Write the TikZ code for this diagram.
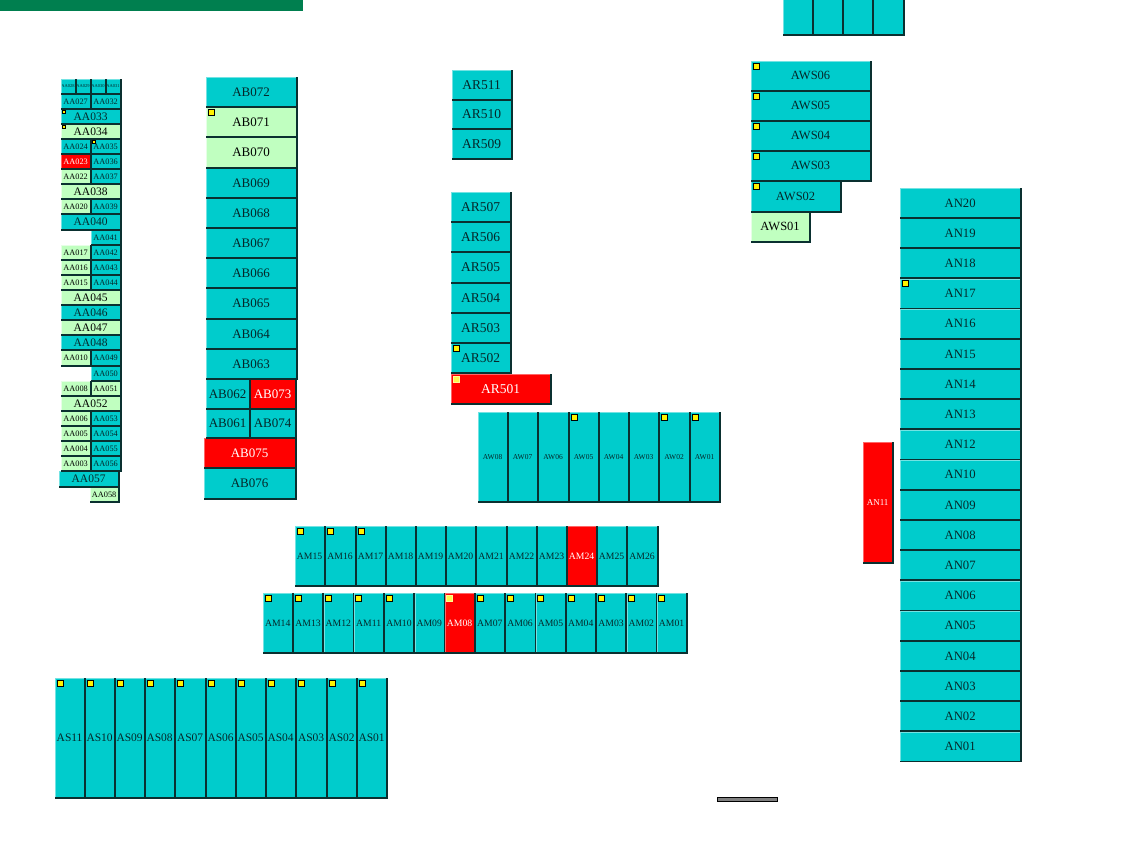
\documentclass[tikz,border=0pt]{standalone}
\usepackage{fontspec}
\setmainfont{Liberation Serif}
\definecolor{tealc}{HTML}{00CCCC}
\definecolor{greenc}{HTML}{C0FFC0}
\definecolor{redc}{HTML}{FF0000}
\definecolor{darkedge}{HTML}{0A3030}
\definecolor{topbar}{HTML}{007F4F}
\definecolor{lighttx}{HTML}{05282A}
\tikzset{
  x=1pt,y=-1pt,
  cellbase/.style={anchor=north west,inner sep=0pt,outer sep=0pt,draw=none,text=lighttx,align=center},
  tl/.style={cellbase,fill=tealc},
  gr/.style={cellbase,fill=greenc,text=black},
  rd/.style={cellbase,fill=redc,text=white},
  hiedge/.style={line width=0.9pt},
  loedge/.style={line width=1.7pt,color=darkedge},
  marker/.style={anchor=north west,inner sep=0pt,outer sep=0pt,minimum width=6pt,minimum height=6pt,fill=yellow,draw=black,line width=0.9pt},
  pale/.style={marker,fill=yellow!70!white,draw=yellow!40!white},
}
\def\grname{gr}\def\rdname{rd}
\gdef\edgelist{}
% \cell{style}{name}{x0}{y0}{x1}{y1}{size}{text}
\newcommand{\cell}[8]{%
  \pgfmathsetlengthmacro{\cw}{(#5-#3)*1pt}\pgfmathsetlengthmacro{\ch}{(#6-#4)*1pt}%
  \def\stylename{#1}%
  \ifx\stylename\grname\def\hic{white!60!greenc}\else\ifx\stylename\rdname\def\hic{redc!60!white}\else\def\hic{tealc!55!white}\fi\fi
  \node[#1,minimum width=\cw,minimum height=\ch] (#2) at (#3,#4) {\raisebox{0.4pt}{\fontsize{#7}{#7}\selectfont #8}\hspace{0.8pt}};
  \draw[hiedge,color=\hic] ([shift={(0.45,-1)}]#2.south west) -- ([shift={(0.45,0.45)}]#2.north west) -- ([shift={(-1,0.45)}]#2.north east);
  \xdef\edgelist{\edgelist #2,}%
}
\newcommand{\mk}[1]{\node[marker] (m#1) at ([shift={(2,2)}]#1.north west) {};}
\newcommand{\mkp}[1]{\node[pale] (m#1) at ([shift={(2,2)}]#1.north west) {};}
\newcommand{\mks}[1]{\node[marker,minimum width=3pt,minimum height=3pt,line width=0.7pt] (m#1) at ([shift={(1,1.5)}]#1.north west) {};}
\begin{document}
\begin{tikzpicture}
\useasboundingbox (0,0) rectangle (1138,849);
\fill[white] (0,0) rectangle (1138,849);
\node[anchor=north west,inner sep=0pt,outer sep=0pt,fill=topbar,minimum width=303pt,minimum height=11pt] (bar) at (0,0) {};
\node[anchor=north west,inner sep=0pt,outer sep=0pt,fill=gray,draw=black,line width=1pt,minimum width=60pt,minimum height=3.5pt] (gbar) at (717.5,797.5) {};
% top row
\cell{tl}{T1}{783}{-5}{813}{35}{8}{}
\cell{tl}{T2}{813}{-5}{843}{35}{8}{}
\cell{tl}{T3}{843}{-5}{873}{35}{8}{}
\cell{tl}{T4}{873}{-5}{904}{35}{8}{}
% AWS
\cell{tl}{AWS06}{751}{61}{871}{91}{12.5}{AWS06}
\cell{tl}{AWS05}{751}{91}{871}{121}{12.5}{AWS05}
\cell{tl}{AWS04}{751}{121}{871}{151}{12.5}{AWS04}
\cell{tl}{AWS03}{751}{151}{871}{181}{12.5}{AWS03}
\cell{tl}{AWS02}{751}{181}{841}{212}{12.5}{AWS02}
\cell{gr}{AWS01}{751}{212}{810}{242}{12.5}{AWS01}
\mk{AWS06}\mk{AWS05}\mk{AWS04}\mk{AWS03}\mk{AWS02}
% AN
\foreach \n/\i in {20/0,19/1,18/2,17/3,16/4,15/5,14/6,13/7,12/8,10/9,09/10,08/11,07/12,06/13,05/14,04/15,03/16,02/17,01/18}{
  \pgfmathsetmacro{\ya}{188+30.2*\i}\pgfmathsetmacro{\yb}{188+30.2*(\i+1)}
  \cell{tl}{AN\n}{900}{\ya}{1021}{\yb}{12.7}{AN\n}
}
\mk{AN17}
\cell{rd}{AN11}{863}{442}{893}{563}{9}{AN11}
% AR
\cell{tl}{AR511}{452}{70}{512}{100}{13.5}{AR511}
\cell{tl}{AR510}{452}{100}{512}{129}{13.5}{AR510}
\cell{tl}{AR509}{452}{129}{512}{159}{13.5}{AR509}
\cell{tl}{AR507}{451}{192}{511}{222}{13.5}{AR507}
\cell{tl}{AR506}{451}{222}{511}{252}{13.5}{AR506}
\cell{tl}{AR505}{451}{252}{511}{283}{13.5}{AR505}
\cell{tl}{AR504}{451}{283}{511}{313}{13.5}{AR504}
\cell{tl}{AR503}{451}{313}{511}{343}{13.5}{AR503}
\cell{tl}{AR502}{451}{343}{511}{373}{13.5}{AR502}
\cell{rd}{AR501}{451}{374}{551}{404}{13.5}{AR501}
\mk{AR502}\mkp{AR501}
% AW
\foreach \n/\a/\b in {08/478/508,07/508/538,06/538/569,05/569/599,04/599/629,03/629/659,02/659/690,01/690/720}{
  \cell{tl}{AW\n}{\a}{412}{\b}{502}{7.5}{AW\n}
}
\mk{AW05}\mk{AW02}\mk{AW01}
% AM upper
\foreach \n/\a/\b in {15/295/325,16/325/356,17/356/386,18/386/416,19/416/446,20/446/476,21/476/507,22/507/537,23/537/567,25/597/627,26/627/658}{
  \cell{tl}{AMu\n}{\a}{526}{\b}{586}{9.7}{AM\n}
}
\cell{rd}{AMu24}{567}{526}{597}{586}{9.7}{AM24}
\mk{AMu15}\mk{AMu16}\mk{AMu17}
% AM lower
\foreach \n/\i in {14/0,13/1,12/2,11/3,10/4,09/5,07/7,06/8,05/9,04/10,03/11,02/12,01/13}{
  \pgfmathsetmacro{\xa}{263+30.3*\i}\pgfmathsetmacro{\xb}{263+30.3*(\i+1)}
  \cell{tl}{AMl\n}{\xa}{593}{\xb}{653}{9.7}{AM\n}
}
\cell{rd}{AMl08}{444.8}{593}{475.1}{653}{9.7}{AM08}
\foreach \n in {14,13,12,11,10,07,06,05,04,03,02,01}{\mk{AMl\n}}
\mkp{AMl08}
% AS
\foreach \n/\a/\b in {11/55/85,10/85/115,09/115/145,08/145/175,07/175/206,06/206/236,05/236/266,04/266/296,03/296/327,02/327/357,01/357/387}{
  \cell{tl}{AS\n}{\a}{678}{\b}{798}{11.5}{AS\n}
  \mk{AS\n}
}
% AB
\cell{tl}{AB072}{206}{77}{297}{107}{13}{AB072}
\cell{gr}{AB071}{206}{107}{297}{137}{13}{AB071}
\cell{gr}{AB070}{206}{137}{297}{168}{13}{AB070}
\cell{tl}{AB069}{206}{168}{297}{198}{13}{AB069}
\cell{tl}{AB068}{206}{198}{297}{228}{13}{AB068}
\cell{tl}{AB067}{206}{228}{297}{258}{13}{AB067}
\cell{tl}{AB066}{206}{258}{297}{288}{13}{AB066}
\cell{tl}{AB065}{206}{288}{297}{319}{13}{AB065}
\cell{tl}{AB064}{206}{319}{297}{349}{13}{AB064}
\cell{tl}{AB063}{206}{349}{297}{379}{13}{AB063}
\cell{tl}{AB062}{206}{379}{250}{409}{13}{AB062}
\cell{rd}{AB073}{250}{379}{296}{409}{13}{AB073}
\cell{tl}{AB061}{206}{409}{250}{438}{13}{AB061}
\cell{tl}{AB074}{250}{409}{296}{438}{13}{AB074}
\cell{rd}{AB075}{204}{438}{296}{468}{13}{AB075}
\cell{tl}{AB076}{204}{468}{296}{499}{13}{AB076}
\mk{AB071}
% AA
\foreach \n/\a/\b in {028/61/76,029/76/91,030/91/106,031/106/121}{\cell{tl}{AA\n}{\a}{79}{\b}{94}{4.5}{AA\n}}
\newcommand{\pairrow}[6]{% y0 y1 style-left left style-right right
  \cell{#3}{AA#4}{61}{#1}{91}{#2}{8.3}{AA#4}
  \cell{#5}{AA#6}{91}{#1}{121}{#2}{8.3}{AA#6}
}
\newcommand{\widerow}[4]{\cell{#3}{AA#4}{61}{#1}{121}{#2}{11.5}{AA#4}}
\newcommand{\rightrow}[4]{\cell{#3}{AA#4}{91}{#1}{121}{#2}{8.3}{AA#4}}
\pairrow{94}{109}{tl}{027}{tl}{032}
\widerow{109}{124}{tl}{033}
\widerow{124}{139}{gr}{034}
\pairrow{139}{154}{tl}{024}{tl}{035}
\pairrow{154}{169}{rd}{023}{tl}{036}
\pairrow{169}{184}{gr}{022}{tl}{037}
\widerow{184}{199}{gr}{038}
\pairrow{199}{214}{gr}{020}{tl}{039}
\widerow{214}{230}{tl}{040}
\rightrow{230}{245}{tl}{041}
\pairrow{245}{260}{gr}{017}{tl}{042}
\pairrow{260}{275}{gr}{016}{tl}{043}
\pairrow{275}{290}{gr}{015}{tl}{044}
\widerow{290}{305}{gr}{045}
\widerow{305}{320}{tl}{046}
\widerow{320}{335}{gr}{047}
\widerow{335}{350}{tl}{048}
\pairrow{350}{366}{gr}{010}{tl}{049}
\rightrow{366}{381}{tl}{050}
\pairrow{381}{396}{gr}{008}{gr}{051}
\widerow{396}{411}{gr}{052}
\pairrow{411}{426}{gr}{006}{tl}{053}
\pairrow{426}{441}{gr}{005}{tl}{054}
\pairrow{441}{456}{gr}{004}{tl}{055}
\pairrow{456}{471}{gr}{003}{tl}{056}
\cell{tl}{AA057}{59}{471}{119}{487}{11.5}{AA057}
\cell{gr}{AA058}{90}{487}{119}{502}{8.3}{AA058}
\mks{AA033}\mks{AA034}\mks{AA035}
% dark lower/right edges, drawn last so that no neighbouring cell covers them
\foreach \c in \edgelist {
  \ifx\c\empty\else
  \draw[loedge] ([shift={(-0.3,0)}]\c.north east) -- ([shift={(-0.3,-0.3)}]\c.south east) -- ([shift={(0,-0.3)}]\c.south west);
  \fi
}
\end{tikzpicture}
\end{document}
